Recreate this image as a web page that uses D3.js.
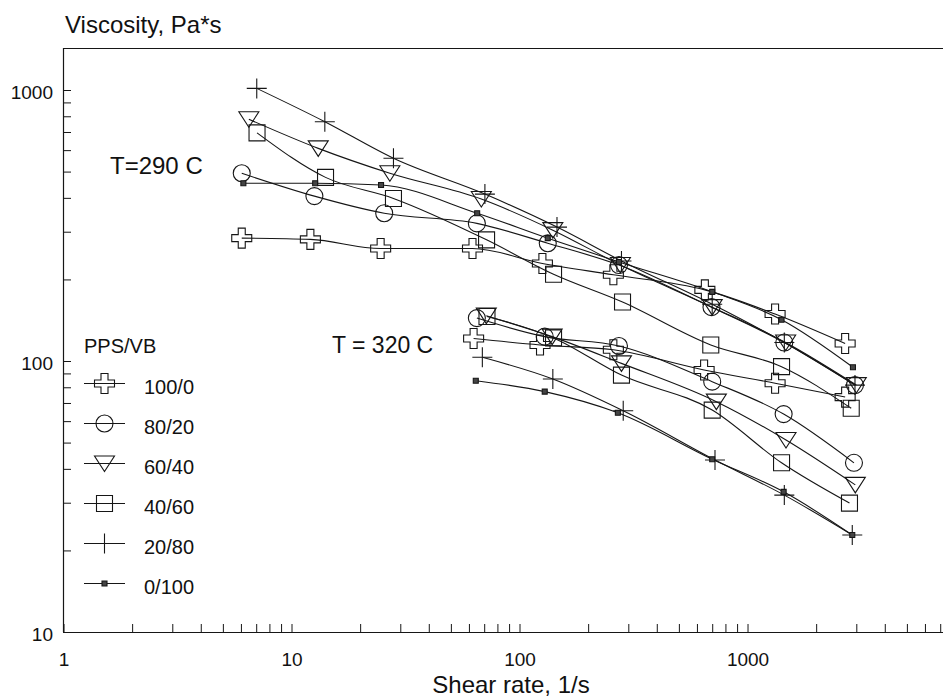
<!DOCTYPE html>
<html>
<head>
<meta charset="utf-8">
<script src="https://cdn.jsdelivr.net/npm/d3@7"></script>
<style>
  html, body { margin: 0; padding: 0; background: #fff; }
  svg { display: block; font-family: "Liberation Sans", Arial, Helvetica, sans-serif; }
</style>
</head>
<body>
<svg id="chart" width="943" height="700"></svg>
<script>
// ---------------- data ----------------
const blends = ["100/0", "80/20", "60/40", "40/60", "20/80", "0/100"];
const markerTypes = ["thickCross", "circle", "triangle", "square", "thinCross", "dot"];
const xTickLabels = ["1", "10", "100", "1000"];
const yTickLabels = ["10", "100", "1000"];
const tempLabels = ["T=290 C", "T = 320 C"];

// [shear rate (1/s), viscosity (Pa*s)]  T = 290 C
const t290_100_0 = [[6.05,284],[12.1,281],[24.6,260],[62.2,260],[126,229],[258,208],[650,183],[1321,149],[2680,116]];
const t290_80_20 = [[6.05,493],[12.6,406],[25.5,351],[65,322],[133,272],[273,226],[695,158],[1450,117],[2960,81.5]];
const t290_60_40 = [[6.5,780],[13.1,609],[27,493],[68,396],[140,304],[277,226],[700,158],[1470,117],[3000,81.5]];
const t290_40_60 = [[7.06,695],[14.1,476],[28,398],[71.7,280],[141,209],[283,165],[690,114.6],[1410,95.3],[2850,66.9]];
const t290_20_80 = [[7.04,1014],[14,764],[28,560],[70.5,413],[146,312],[280,234],[700,162],[1450,117],[2960,81.5]];
const t290_0_100 = [[6.15,453],[12.7,453],[24.7,446],[65.2,351],[133,284],[273,232],[700,180],[1410,142],[2900,94.8]];
// T = 320 C
const t320_100_0 = [[62.9,121],[123,114.6],[258,110],[645,92.7],[1321,82.8],[2680,73.6]];
const t320_80_20 = [[65,144],[129,123],[273,113.6],[700,83.9],[1440,63.7],[2930,42.1]];
const t320_60_40 = [[71.5,147],[139,123],[280,98],[730,70.8],[1475,51.1],[2970,34.9]];
const t320_40_60 = [[72,146],[141,121.7],[280,88.7],[700,65.9],[1410,42.1],[2800,29.9]];
const t320_20_80 = [[68.7,103.2],[140,85.8],[285,65.5],[720,43.1],[1450,32],[2880,22.8]];
const t320_0_100 = [[64.3,84.6],[129,77.1],[270,64.4],[700,43.4],[1440,32.9],[2880,22.8]];

const series = [
  {blend: 0, pts: t290_100_0}, {blend: 1, pts: t290_80_20}, {blend: 2, pts: t290_60_40},
  {blend: 3, pts: t290_40_60}, {blend: 4, pts: t290_20_80}, {blend: 5, pts: t290_0_100},
  {blend: 0, pts: t320_100_0}, {blend: 1, pts: t320_80_20}, {blend: 2, pts: t320_60_40},
  {blend: 3, pts: t320_40_60}, {blend: 4, pts: t320_20_80}, {blend: 5, pts: t320_0_100}
];

// ---------------- chart ----------------
const svg = d3.select("#chart");
const INK = "#161616";

const x = d3.scaleLog().domain([1, 7200]).range([63.5, 943]);
const y = d3.scaleLog().domain([10, 1429]).range([632, 48]);

// axes
const xAxis = d3.axisBottom(x)
  .tickValues(x.ticks())
  .tickSizeInner(-8).tickSizeOuter(0).tickPadding(21)
  .tickFormat(d => xTickLabels.includes(String(d)) ? String(d) : "");
const gx = svg.append("g").attr("transform", "translate(0,632)").call(xAxis);

const yAxis = d3.axisLeft(y)
  .tickValues(y.ticks())
  .tickSizeInner(-8).tickSizeOuter(0).tickPadding(10)
  .tickFormat(d => yTickLabels.includes(String(d)) ? String(d) : "");
const gy = svg.append("g").attr("transform", "translate(63,0)").call(yAxis);

[gx, gy].forEach(g => {
  g.selectAll("path.domain").attr("stroke", INK).attr("stroke-width", 1.2);
  g.selectAll(".tick line").attr("stroke", INK).attr("stroke-width", 1);
  g.selectAll(".tick text").attr("fill", "#111").attr("font-size", 19)
    .attr("font-family", "'Liberation Sans', Arial, sans-serif");
});
gy.selectAll(".tick text").attr("dy", "0.45em");
gy.select("path.domain").attr("d", "M0.5,632V48");

// top border
svg.append("line").attr("x1", 63.5).attr("x2", 943).attr("y1", 48.5).attr("y2", 48.5)
  .attr("stroke", INK).attr("stroke-width", 1.2);

// titles
svg.append("text").attr("x", 65).attr("y", 33).attr("font-size", 24).attr("fill", "#111")
  .text("Viscosity, Pa*s");
svg.append("text").attr("x", 511).attr("y", 693).attr("font-size", 24).attr("fill", "#111")
  .attr("text-anchor", "middle").text("Shear rate, 1/s");

// temperature labels
svg.append("text").attr("x", 110).attr("y", 174).attr("font-size", 24).attr("fill", "#111").text(tempLabels[0]);
svg.append("text").attr("x", 332).attr("y", 353).attr("font-size", 23).attr("fill", "#111").text(tempLabels[1]);

// marker shapes
function markerPath(type) {
  switch (type) {
    case "thickCross": {
      const a = 3.5, L = 10;
      return `M${-a},${-L}H${a}V${-a}H${L}V${a}H${a}V${L}H${-a}V${a}H${-L}V${-a}H${-a}Z`;
    }
    case "circle": return d3.symbol(d3.symbolCircle, Math.PI * 8.5 * 8.5)();
    case "triangle": return "M-10,-7.5L10,-7.5L0,8Z";
    case "square": return "M-8,-8H8V8H-8Z";
    case "thinCross": return "M-10,0H10M0,-10V10";
    case "dot": return "M-2.5,-2.5H2.5V2.5H-2.5Z";
  }
}
function drawMarker(g, type) {
  const p = g.append("path").attr("d", markerPath(type)).attr("stroke", INK).attr("stroke-width", 1.1);
  if (type === "dot") p.attr("fill", "#444");
  else p.attr("fill", "none");
}

// lines
const lineGen = d3.line().x(d => x(d[0])).y(d => y(d[1])).curve(d3.curveMonotoneX);
const gLines = svg.append("g");
series.forEach(s => {
  gLines.append("path").datum(s.pts).attr("d", lineGen)
    .attr("fill", "none").attr("stroke", INK).attr("stroke-width", 1.1);
});

// markers
const gMarks = svg.append("g");
series.forEach(s => {
  s.pts.forEach(p => {
    const g = gMarks.append("g").attr("transform", `translate(${x(p[0])},${y(p[1])})`);
    drawMarker(g, markerTypes[s.blend]);
  });
});

// legend
const legend = svg.append("g");
legend.append("text").attr("x", 84).attr("y", 353).attr("font-size", 20).attr("fill", "#111").text("PPS/VB");
blends.forEach((b, i) => {
  const cy = 383.5 + i * 40;
  legend.append("line").attr("x1", 84).attr("x2", 125).attr("y1", cy).attr("y2", cy)
    .attr("stroke", INK).attr("stroke-width", 1);
  const g = legend.append("g").attr("transform", `translate(104.5,${cy})`);
  drawMarker(g, markerTypes[i]);
  legend.append("text").attr("x", 144).attr("y", cy + 10).attr("font-size", 20).attr("fill", "#111").text(b);
});
</script>
</body>
</html>
